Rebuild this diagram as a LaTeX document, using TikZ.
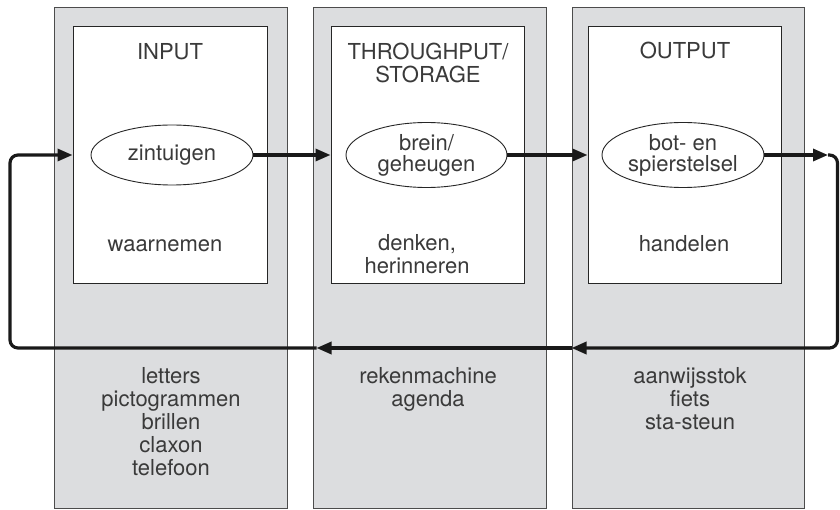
\documentclass[tikz,border=0pt]{standalone}
\usepackage{fontspec}
\setmainfont{TeX Gyre Heros}
\usetikzlibrary{arrows.meta,shapes.geometric}
\definecolor{panel}{HTML}{DCDDDF}
\definecolor{ink}{HTML}{3A3A3A}
\begin{document}
\begin{tikzpicture}[x=1pt,y=-1pt,
  colbox/.style={draw=black!70, fill=panel, line width=1pt, inner sep=0pt, rectangle},
  whitebox/.style={draw=black!85, fill=white, line width=1pt, inner sep=0pt, rectangle},
  organ/.style={ellipse, draw=black!85, line width=0.9pt, fill=white, inner sep=0pt, align=center,
     font=\fontsize{22}{21}\selectfont, text=ink},
  lbl/.style={align=center, inner sep=0pt, anchor=base, text=ink, font=\fontsize{22}{23}\selectfont},
  flow/.style={line width=3.2pt, draw=black!90, -{Triangle[length=15pt,width=12pt]}}
]
\useasboundingbox (0,0) rectangle (840,510);
% columns
\node[colbox, minimum width=233pt, minimum height=501pt] (g1) at (170.5,258) {};
\node[colbox, minimum width=233pt, minimum height=501pt] (g2) at (429.5,258) {};
\node[colbox, minimum width=232pt, minimum height=501pt] (g3) at (688,258) {};
% inner boxes
\node[whitebox, minimum width=194pt, minimum height=257pt] (w1) at (170,155.5) {};
\node[whitebox, minimum width=193pt, minimum height=257pt] (w2) at (427.5,155.5) {};
\node[whitebox, minimum width=193pt, minimum height=257pt] (w3) at (684.5,155.5) {};
% titles (base anchor = baseline of last line)
\node[lbl] (t1) at (170,60) {INPUT};
\node[lbl] (t2) at (428,83) {THROUGHPUT/\\STORAGE};
\node[lbl] (t3) at (685,59) {OUTPUT};
% organs
\node[organ, minimum width=162pt, minimum height=60pt] (e1) at (172,155) {zintuigen};
\node[organ, minimum width=161pt, minimum height=65pt] (e2) at (426.5,155) {brein/\\geheugen};
\node[organ, minimum width=162pt, minimum height=65pt] (e3) at (683,155) {bot- en\\spierstelsel};
% activities
\node[lbl] (a1) at (165,252) {waarnemen};
\node[lbl] (a2) at (417,274) {denken,\\herinneren};
\node[lbl] (a3) at (684,252) {handelen};
% tools
\node[lbl] (x1) at (171,475) {letters\\pictogrammen\\brillen\\claxon\\telefoon};
\node[lbl] (x2) at (428,406) {rekenmachine\\agenda};
\node[lbl] (x3) at (690,429) {aanwijsstok\\fiets\\sta-steun};
% loop coordinates
\coordinate (rt) at (828,155);
\coordinate (tr) at (837.5,155);
\coordinate (br) at (837.5,348);
\coordinate (bl) at (10,348);
\coordinate (tl) at (10,155);
% forward arrows
\draw[flow] (e1.east) -- (e1.east -| w2.west);
\draw[flow] (e2.east) -- (e2.east -| w3.west);
\draw[flow] (e3.east) -- (rt);
% feedback loop
\draw[flow, rounded corners=8pt] (rt) -- (tr) -- (br) -- (g3.west |- br);
\draw[flow] (g3.west |- br) -- ([xshift=4pt]g2.west |- br);
\draw[flow, rounded corners=8pt] ([xshift=4pt]g2.west |- br) -- (bl) -- (tl) -- (tl -| w1.west);
\end{tikzpicture}
\end{document}
